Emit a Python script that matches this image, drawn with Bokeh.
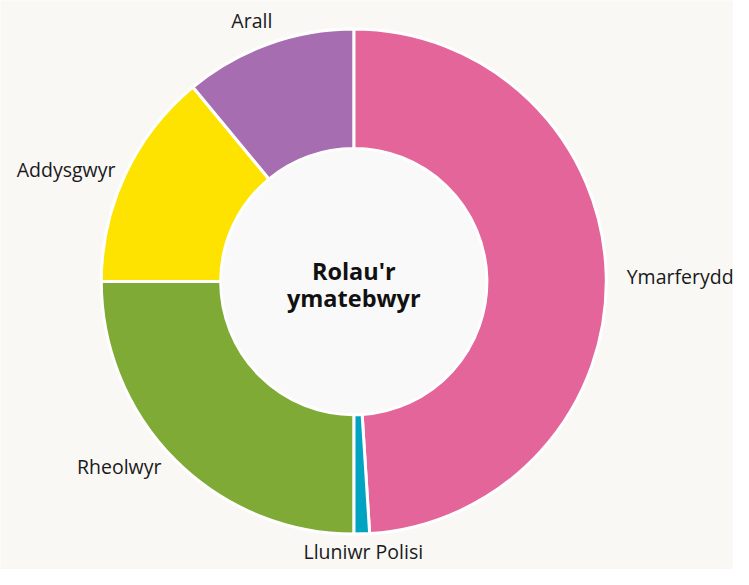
import math
from bokeh.plotting import figure
from bokeh.models import Range1d
from bokeh.core.properties import value
from bokeh.embed import file_html
from bokeh.resources import INLINE

# Data
categories = ["Ymarferydd", "Lluniwr Polisi", "Rheolwyr", "Addysgwyr", "Arall"]
shares = [49, 1, 25, 14, 11]
colors = ["#e46599", "#00a4c2", "#7faa35", "#fee300", "#a66eb0"]
center_title = ["Rolau'r", "ymatebwyr"]

BG = "#f9f8f5"
W, H = 733, 569
FONT = "Open Sans"

# coordinate system matches the 749x585 reference canvas (y measured upward)
p = figure(width=W, height=H, output_backend="svg", toolbar_location=None,
           x_range=Range1d(0, 749), y_range=Range1d(0, 585),
           min_border=0, outline_line_color=None,
           background_fill_color=BG, border_fill_color=BG)
p.axis.visible = False
p.grid.visible = False

cx, cy = 361, 585 - 289
R_out, R_in = 258, 136

total = float(sum(shares))
starts, ends, mids = [], [], []
acc = 0.0
for s in shares:
    a0 = acc / total * 360.0
    acc += s
    a1 = acc / total * 360.0
    starts.append(math.radians(90 - a0))
    ends.append(math.radians(90 - a1))
    mids.append((a0 + a1) / 2.0)

p.annular_wedge(x=[cx] * len(shares), y=[cy] * len(shares),
                inner_radius=R_in, outer_radius=R_out,
                start_angle=starts, end_angle=ends, direction="clock",
                fill_color=colors, line_color="white", line_width=3)

p.circle(x=[cx], y=[cy], radius=R_in - 1.5, fill_color="#f9f9f9", line_color=None)

# Labels (placed just outside each slice, small per-label nudges)
nudge = {"Ymarferydd": (1, -3), "Lluniwr Polisi": (1, 10), "Rheolwyr": (0, 6),
         "Addysgwyr": (8, -3), "Arall": (-10, -3)}
R_lab = 278
for cat, m in zip(categories, mids):
    t = math.radians(m)
    sx, sy = math.sin(t), math.cos(t)
    x = cx + R_lab * sx
    y = cy + R_lab * sy
    if abs(sx) < 0.4:
        align = "center"
        y += 10 * (1 if sy > 0 else -1)
    elif sx > 0:
        align = "left"
    else:
        align = "right"
    dx, dy = nudge.get(cat, (0, 0))
    p.text(x=[x + dx], y=[y + dy], text=[cat], text_align=align, text_baseline="middle",
           text_font=value(FONT), text_font_size="19.5px", text_color="#1a1a1a")

p.text(x=[cx, cx], y=[585 - 278, 585 - 306], text=center_title, text_align="center",
       text_baseline="alphabetic", text_font=value(FONT), text_font_style="bold",
       text_font_size="23.5px", text_color="#111111")

html = file_html(p, INLINE)
html = html.replace("<body>", '<body style="background:%s">' % BG, 1)
open("out.html", "w").write(html)
